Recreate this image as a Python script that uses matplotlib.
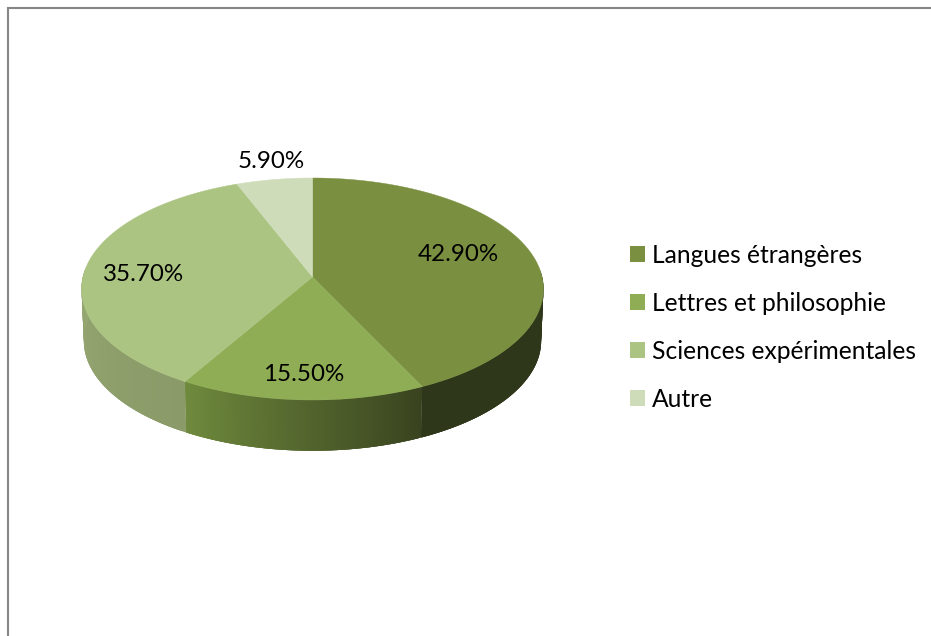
import numpy as np
import matplotlib
matplotlib.use("Agg")
import matplotlib.pyplot as plt
from matplotlib.collections import PolyCollection
from matplotlib.patches import Patch, Polygon
from matplotlib.colors import to_rgb

plt.rcParams['font.family'] = ['Lato', 'DejaVu Sans']

categories = ['Langues étrangères', 'Lettres et philosophie', 'Sciences expérimentales', 'Autre']
values = [42.9, 15.5, 35.7, 5.9]
value_labels = ['42.90%', '15.50%', '35.70%', '5.90%']

colors = ['#7a9040', '#8fad54', '#abc482', '#cfdcba']
# side of the disc, colour at start and end of each slice (clockwise)
side_colors = [('#2f371a', '#2f371a'), ('#39431f', '#6f8a3d'), ('#8a9a68', '#a3b47c'), ('#cfdcba', '#cfdcba')]
label_pos = [(458, 254.5), (304, 374.5), (144, 274.5), (271, 162)]

# perspective of the disc, in pixels
cx, cy = 312.5, 277
rx, ry, k = 229.6, 109.7, 0.108
depth = 52


def project(theta, dy=0, scale=1.0):
    u, v = np.sin(theta), np.cos(theta)
    s = scale / (1 + k * v)
    return cx + rx * u * s, cy + dy - ry * v * s


fig = plt.figure(figsize=(9.31, 6.36), dpi=100)
ax = fig.add_axes([0, 0, 1, 1])
ax.set_xlim(0, 931)
ax.set_ylim(636, 0)
ax.axis('off')

# frame, only left and top are visible
ax.plot([7.5, 7.5, 931], [636, 7.5, 7.5], color='#868686', lw=1.5, solid_joinstyle='miter')

edges = np.cumsum([0] + values) / sum(values) * 2 * np.pi

# side, each strip overlaps the next one so no seams show
for i in range(len(values)):
    t = np.linspace(edges[i], edges[i + 1], 160)
    x0, y0 = project(t)
    x1, y1 = project(t, depth, 0.99)
    c0, c1 = np.array(to_rgb(side_colors[i][0])), np.array(to_rgb(side_colors[i][1]))
    quads, cols = [], []
    for j in range(len(t) - 1):
        if np.cos(t[j]) > 0.05 and np.cos(t[j + 1]) > 0.05:
            continue
        e = min(j + 3, len(t) - 1)
        quads.append(list(zip(x0[j:e + 1], y0[j:e + 1])) + list(zip(x1[j:e + 1], y1[j:e + 1]))[::-1])
        cols.append(c0 + (c1 - c0) * j / (len(t) - 2))
    if quads:
        ax.add_collection(PolyCollection(quads, facecolors=cols, edgecolors='none', linewidths=0))

# top
for i in range(len(values)):
    t = np.linspace(edges[i], edges[i + 1], 200)
    x, y = project(t)
    pts = [(cx, cy)] + list(zip(x, y))
    ax.add_patch(Polygon(pts, closed=True, facecolor=colors[i], edgecolor=colors[i], lw=0.3))

for lab, (px, py) in zip(value_labels, label_pos):
    ax.text(px, py, lab, ha='center', va='center', fontsize=17.4, color='black')

handles = [Patch(facecolor=c, edgecolor='none') for c in colors]
ax.legend(handles, categories, loc='upper left', bbox_to_anchor=(630 / 931, 1 - 244 / 636),
          frameon=False, fontsize=17.7, handlelength=0.62, handleheight=0.62,
          handletextpad=0.26, labelspacing=1.015, borderpad=0, borderaxespad=0)

fig.savefig('out.png', dpi=100)
